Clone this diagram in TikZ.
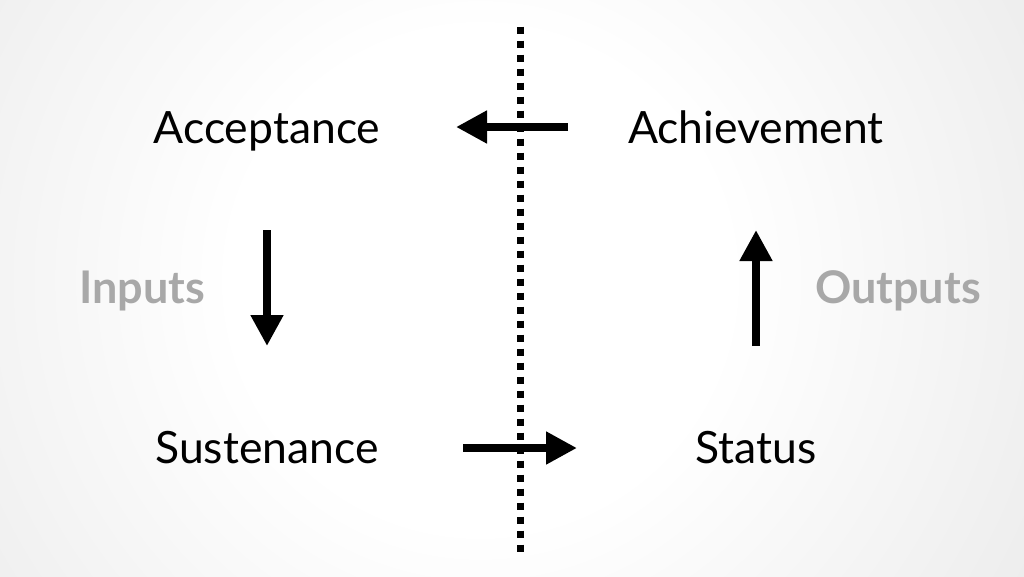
\documentclass[tikz,border=0pt]{standalone}
\usepackage{fontspec}
\setmainfont{Lato}
\usetikzlibrary{arrows.meta}
\pgfdeclareradialshading{bgshade}{\pgfpoint{0bp}{0bp}}{color(0bp)=(white); color(10bp)=(white); color(40bp)=(black!14); color(50bp)=(black!21)}
\tikzset{
  label/.style={font=\fontsize{44.5}{52}\selectfont, text=black, anchor=base, inner sep=0pt},
  side/.style={font=\fontsize{45}{52}\selectfont\bfseries, text=black!34, anchor=base, inner sep=0pt},
  bigarrow/.style={line width=8pt, -{Triangle[length=31pt,width=31pt]}},
  divider/.style={line width=7pt, dash pattern=on 7pt off 7pt}
}
\begin{document}
\begin{tikzpicture}[x=1pt,y=-1pt]
\useasboundingbox (0,0) rectangle (1024,576);
\begin{scope}
\clip (0,0) rectangle (1024,576);
\shade[shading=bgshade] (480,280) circle (620);
\end{scope}
\node[label] (acc) at (267,143) {Acceptance};
\node[label] (ach) at (756,143) {Achievement};
\node[label] (sus) at (267,463) {Sustenance};
\node[label] (sta) at (756,463) {Status};
\node[side] (in) at (142,303) {Inputs};
\node[side] (out) at (898,303) {Outputs};
\coordinate (dtop) at (520,26.5);
\coordinate (dbot) at (520,552);
\draw[divider] (dtop) -- (dbot);
\coordinate (a1) at (568,127);
\coordinate (a2) at (456,127);
\coordinate (b1) at (267,230);
\coordinate (b2) at (267,346);
\coordinate (c1) at (463,448);
\coordinate (c2) at (577,448);
\coordinate (d1) at (756,346);
\coordinate (d2) at (756,230);
\draw[bigarrow] (a1) -- (a2);
\draw[bigarrow] (b1) -- (b2);
\draw[bigarrow] (c1) -- (c2);
\draw[bigarrow] (d1) -- (d2);
\end{tikzpicture}
\end{document}
